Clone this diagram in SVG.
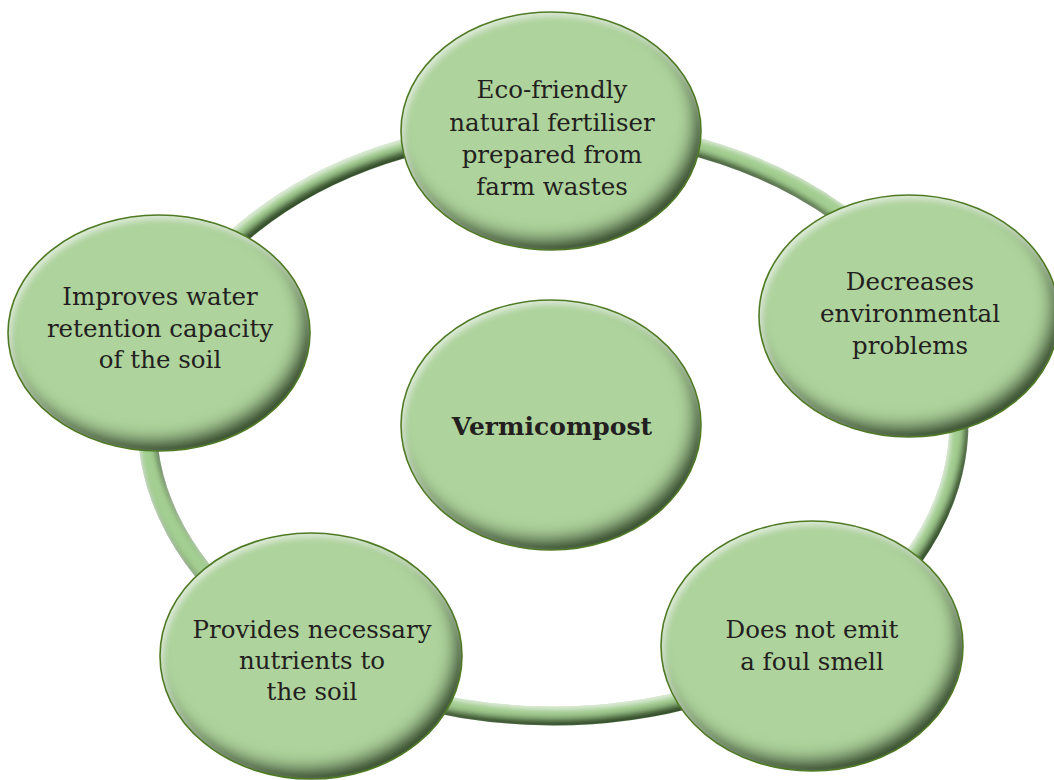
<svg xmlns="http://www.w3.org/2000/svg" width="1054" height="780" viewBox="0 0 1054 780">
  <style>
    .node { fill: #aed39c; }
    .rim { fill: none; stroke: #4f7a24; stroke-width: 1.6; }
    .lbl { font-family: "DejaVu Serif", "Liberation Serif", serif; font-size: 24.5px; fill: #231f20; text-anchor: middle; }
    .bold { font-weight: bold; font-size: 25px; }
  </style>
  <defs>
    <filter id="bevel" x="-10%" y="-10%" width="120%" height="120%">
      <feGaussianBlur in="SourceAlpha" stdDeviation="8" result="blur"/>
      <feOffset in="blur" dx="-8" dy="-12" result="sh"/>
      <feComposite in="SourceAlpha" in2="sh" operator="out" result="rimDark"/>
      <feFlood flood-color="#1a330e" flood-opacity="0.95"/>
      <feComposite in2="rimDark" operator="in" result="dark"/>
      <feGaussianBlur in="SourceAlpha" stdDeviation="3" result="blur2"/>
      <feOffset in="blur2" dx="3" dy="4" result="hl"/>
      <feComposite in="SourceAlpha" in2="hl" operator="out" result="rimLight"/>
      <feFlood flood-color="#ffffff" flood-opacity="0.55"/>
      <feComposite in2="rimLight" operator="in" result="light"/>
      <feMerge><feMergeNode in="SourceGraphic"/><feMergeNode in="dark"/><feMergeNode in="light"/></feMerge>
    </filter>
    <filter id="ringBevel" x="-5%" y="-5%" width="110%" height="110%">
      <feGaussianBlur in="SourceAlpha" stdDeviation="3" result="blur"/>
      <feOffset in="blur" dx="-4" dy="-7" result="sh"/>
      <feComposite in="SourceAlpha" in2="sh" operator="out" result="rimDark"/>
      <feFlood flood-color="#1f3a14" flood-opacity="0.95"/>
      <feComposite in2="rimDark" operator="in" result="dark"/>
      <feGaussianBlur in="SourceAlpha" stdDeviation="2" result="blur2"/>
      <feOffset in="blur2" dx="2" dy="3" result="hl"/>
      <feComposite in="SourceAlpha" in2="hl" operator="out" result="rimLight"/>
      <feFlood flood-color="#ffffff" flood-opacity="0.55"/>
      <feComposite in2="rimLight" operator="in" result="light"/>
      <feMerge><feMergeNode in="SourceGraphic"/><feMergeNode in="dark"/><feMergeNode in="light"/></feMerge>
    </filter>
  </defs>
  <rect width="1054" height="780" fill="#ffffff"/>

  <g id="connectors">
    <ellipse cx="553" cy="422" rx="406" ry="294" fill="none" stroke="#a4cf92" stroke-width="19" filter="url(#ringBevel)"/>
  </g>

  <g id="node-top">
    <ellipse class="node" cx="551" cy="131" rx="150" ry="119" filter="url(#bevel)"/>
    <ellipse class="rim" cx="551" cy="131" rx="150" ry="119"/>
    <text class="lbl" x="552" y="98">Eco-friendly</text>
    <text class="lbl" x="552" y="131">natural fertiliser</text>
    <text class="lbl" x="552" y="163">prepared from</text>
    <text class="lbl" x="552" y="195">farm wastes</text>
  </g>

  <g id="node-right">
    <ellipse class="node" cx="909" cy="316" rx="150" ry="121" filter="url(#bevel)"/>
    <ellipse class="rim" cx="909" cy="316" rx="150" ry="121"/>
    <text class="lbl" x="910" y="290">Decreases</text>
    <text class="lbl" x="910" y="322">environmental</text>
    <text class="lbl" x="910" y="354">problems</text>
  </g>

  <g id="node-left">
    <ellipse class="node" cx="159" cy="333" rx="151" ry="118" filter="url(#bevel)"/>
    <ellipse class="rim" cx="159" cy="333" rx="151" ry="118"/>
    <text class="lbl" x="160" y="305">Improves water</text>
    <text class="lbl" x="160" y="337">retention capacity</text>
    <text class="lbl" x="160" y="368">of the soil</text>
  </g>

  <g id="node-bottom-left">
    <ellipse class="node" cx="311" cy="656" rx="151" ry="123" filter="url(#bevel)"/>
    <ellipse class="rim" cx="311" cy="656" rx="151" ry="123"/>
    <text class="lbl" x="312" y="638">Provides necessary</text>
    <text class="lbl" x="312" y="669">nutrients to</text>
    <text class="lbl" x="312" y="700">the soil</text>
  </g>

  <g id="node-bottom-right">
    <ellipse class="node" cx="812" cy="646" rx="151" ry="125" filter="url(#bevel)"/>
    <ellipse class="rim" cx="812" cy="646" rx="151" ry="125"/>
    <text class="lbl" x="812" y="638">Does not emit</text>
    <text class="lbl" x="812" y="670">a foul smell</text>
  </g>

  <g id="node-center">
    <ellipse class="node" cx="551" cy="425" rx="150" ry="125" filter="url(#bevel)"/>
    <ellipse class="rim" cx="551" cy="425" rx="150" ry="125"/>
    <text class="lbl bold" x="552" y="435">Vermicompost</text>
  </g>
</svg>
